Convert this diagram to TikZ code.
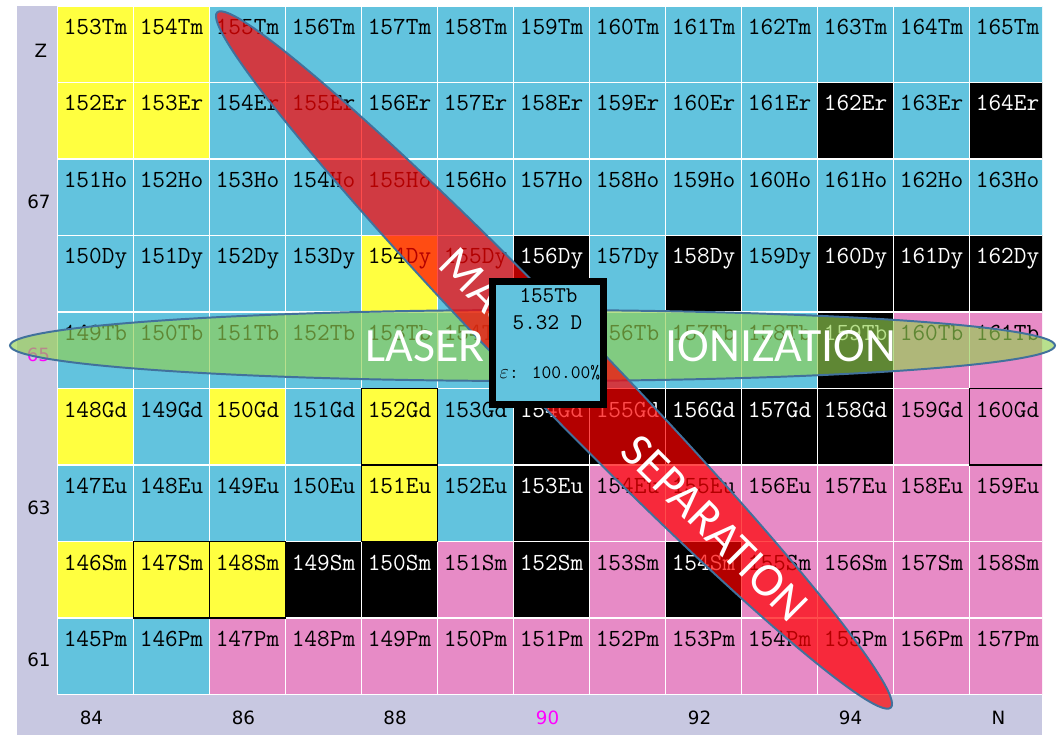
\documentclass[tikz,border=0pt]{standalone}
\usepackage{fontspec}
\newfontfamily\bandfont{Carlito}
\newfontfamily\axisfont{DejaVu Sans}

\definecolor{nucblue}{RGB}{98,195,222}
\definecolor{nucyellow}{RGB}{255,255,64}
\definecolor{nucpink}{RGB}{231,139,198}
\definecolor{axisgray}{RGB}{200,200,225}
\definecolor{axismag}{RGB}{255,0,255}
\definecolor{bandedge}{RGB}{65,113,156}
\definecolor{lasergreen}{RGB}{146,208,80}
\definecolor{massred}{RGB}{255,0,0}

\tikzset{
  cell/.style={draw=white, line width=1.2pt, inner sep=0pt, outer sep=0pt,
    minimum width=1.9cm, text height=0.7125cm, text depth=1.2cm,
    font=\ttfamily\fontsize{17.5}{18}\selectfont},
  cell b/.style={fill=nucblue},
  cell y/.style={fill=nucyellow},
  cell p/.style={fill=nucpink},
  cell k/.style={fill=black, text=white},
  boxed/.style={draw=black, line width=1.2pt},
  axislabel/.style={inner sep=0pt, font=\axisfont\fontsize{13}{13}\selectfont},
  band/.style={draw=bandedge, line width=1.4pt},
  bandtext/.style={text=white, inner sep=0pt, font=\bandfont\fontsize{34}{34}\selectfont},
  focusbox/.style={draw=black, fill=nucblue, line width=0.1675cm, inner sep=0pt,
    minimum width=2.7825cm, minimum height=3.0825cm},
  focustext/.style={anchor=base, inner sep=0pt, font=\ttfamily\fontsize{16}{16}\selectfont}
}

\begin{document}
\begin{tikzpicture}[x=0.025cm, y=-0.025cm]

      \useasboundingbox (0,0) rectangle (1058,735);
      \fill[axisgray] (17,6) rectangle (1042,735);
      \fill[white] (57.5,6) rectangle (1042,695);

      \begin{scope}
        \clip (57,0) rectangle (1042,700);
        \foreach \z/\el/\codes in {
            69/Tm/{y,y,b,b,b,b,b,b,b,b,b,b,b},
            68/Er/{y,y,b,b,b,b,b,b,b,b,k,b,k},
            67/Ho/{b,b,b,b,b,b,b,b,b,b,b,b,b},
            66/Dy/{b,b,b,b,y,b,k,b,k,b,k,k,k},
            65/Tb/{b,b,b,b,b,b,b,b,b,b,k,p,p},
            64/Gd/{y,b,y,b,y,b,k,k,k,k,k,p,p},
            63/Eu/{b,b,b,b,y,b,k,p,p,p,p,p,p},
            62/Sm/{y,y,y,k,k,p,k,p,k,p,p,p,p},
            61/Pm/{b,b,p,p,p,p,p,p,p,p,p,p,p}}
        {
          \foreach \code [count=\i from 0] in \codes {
            \pgfmathtruncatemacro{\mass}{\z+84+\i}
            \node[cell, cell \code] (\mass\el) at ({95.5+76*\i},{44.25+76.5*(69-\z)}) {\mass\el};
          }
        }
        \foreach \n in {152Gd,151Eu,147Sm,148Sm,160Gd}
          \draw[boxed] (\n.north west) rectangle (\n.south east);
      \end{scope}

      \begin{scope}[every node/.style={axislabel}]
        \node (zlab) at (41,50.5)  {Z};
        \node (z67)  at (39,201.5) {67};
        \node[text=axismag] (z65) at (38.5,355) {65};
        \node (z63)  at (39,508)   {63};
        \node (z61)  at (39,660)   {61};
        \node (n84)  at (91.5,717.5)  {84};
        \node (n86)  at (243.5,717.5) {86};
        \node (n88)  at (395,717.5)   {88};
        \node[text=axismag] (n90) at (547.5,717.5) {90};
        \node (n92)  at (699.5,717.5) {92};
        \node (n94)  at (850.5,717.5) {94};
        \node (nlab) at (998.5,717.5) {N};
      \end{scope}

      \draw[band, fill=lasergreen, fill opacity=0.65] (532.5,345.5) ellipse [x radius=522.5, y radius=35.5];
      \draw[band, fill=massred, fill opacity=0.7, rotate around={-45.9:(554,360)}]
        (554,360) ellipse [x radius=484, y radius=40];

      \begin{scope}[every node/.style={bandtext}]
        \node (laser)      at (425,346) {LASER};
        \node (ionization) at (781,346) {IONIZATION};
        \node[rotate=-45] (mass)       at (487.6,295.6) {MASS};
        \node[rotate=-45] (separation) at (715,528)     {SEPARATION};
      \end{scope}

      \node[focusbox] (focus) at (548,343) {};
      \node[focustext] (focusname)  at (548.5,302.7) {155Tb};
      \node[focustext] (focushalf)  at (547.5,329)   {5.32 D};
      \node[focustext, font=\ttfamily\fontsize{13.5}{14}\selectfont] (focusabund) at (550,378) {$\varepsilon$: 100.00\%};

    \end{tikzpicture}
\end{document}
